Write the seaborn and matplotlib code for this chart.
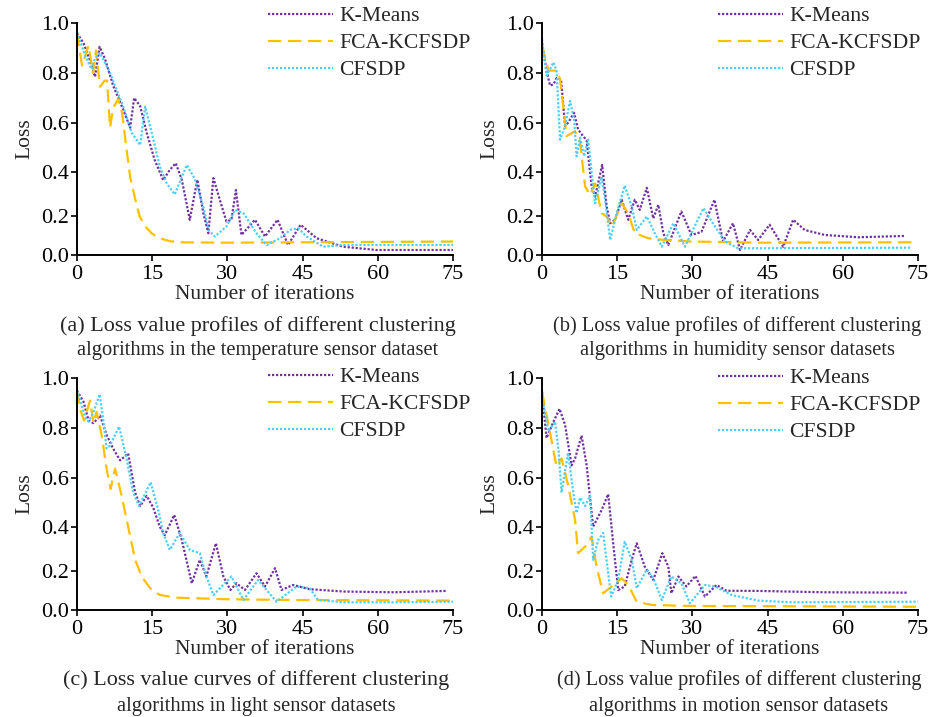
import numpy as np
import pandas as pd
import seaborn as sns
import matplotlib
matplotlib.use("Agg")
import matplotlib.pyplot as plt

# ---- data (iteration, loss) ----
# (a) temperature
a_km_x = [0, 1.3, 2.6, 3.6, 4.5, 5.6, 7.2, 9.2, 10.6, 11.4, 12.6, 13.9, 15.5, 17.2, 18.5, 19.7, 20.9, 22.5,
          24.0, 25.2, 26.2, 27.2, 28.5, 29.8, 30.8, 31.7, 32.8, 35.5, 37.5, 40.0, 42.1, 44.6, 47.8, 53.1, 59.7, 75]
a_km_y = [0.96, 0.92, 0.85, 0.785, 0.905, 0.856, 0.75, 0.654, 0.58, 0.70, 0.667, 0.56, 0.45, 0.365, 0.41, 0.437,
          0.367, 0.183, 0.367, 0.215, 0.113, 0.374, 0.275, 0.174, 0.183, 0.32, 0.104, 0.183, 0.096, 0.183, 0.052,
          0.157, 0.087, 0.043, 0.026, 0.026]
a_fca_x = [0, 1.0, 2.3, 3.2, 3.8, 4.6, 5.5, 6.0, 6.6, 7.2, 8.2, 9.0, 9.9, 10.6, 11.6, 12.5, 13.6, 15.0, 16.5,
           18.5, 20.5, 30, 45, 60, 75]
a_fca_y = [0.96, 0.83, 0.91, 0.80, 0.89, 0.745, 0.77, 0.77, 0.58, 0.66, 0.695, 0.64, 0.49, 0.38, 0.28, 0.20,
           0.148, 0.11, 0.087, 0.072, 0.066, 0.064, 0.066, 0.068, 0.07]
a_cf_x = [0, 1.6, 2.9, 3.6, 4.6, 6.6, 9.2, 10.9, 12.6, 13.6, 14.9, 16.5, 17.9, 19.5, 21.9, 23.5, 25.2, 26.2,
          27.5, 29.8, 31.5, 33.2, 35.8, 37.8, 40.5, 42.5, 44.1, 45.8, 49.1, 53.0, 75]
a_cf_y = [0.963, 0.87, 0.816, 0.86, 0.88, 0.80, 0.667, 0.56, 0.51, 0.665, 0.56, 0.425, 0.35, 0.30, 0.43, 0.37,
          0.245, 0.13, 0.096, 0.148, 0.23, 0.215, 0.113, 0.052, 0.087, 0.13, 0.139, 0.096, 0.043, 0.052, 0.052]

# (b) humidity
b_km_x = [0, 0.9, 1.6, 2.3, 2.9, 3.8, 4.6, 5.2, 6.4, 7.2, 8.2, 8.9, 9.9, 10.6, 12.0, 12.9, 13.6, 14.6, 15.9,
          17.2, 18.5, 19.5, 20.9, 22.2, 23.2, 24.2, 25.2, 27.8, 29.8, 31.8, 34.4, 36.1, 38.1, 39.5, 41.5, 43.1,
          45.4, 48.1, 50.1, 52.4, 56.4, 63.1, 72.4]
b_km_y = [0.92, 0.81, 0.75, 0.755, 0.78, 0.775, 0.587, 0.60, 0.64, 0.573, 0.546, 0.53, 0.336, 0.29, 0.43, 0.245,
          0.165, 0.183, 0.276, 0.183, 0.276, 0.23, 0.33, 0.19, 0.253, 0.113, 0.052, 0.223, 0.104, 0.12, 0.276,
          0.07, 0.165, 0.026, 0.13, 0.078, 0.157, 0.043, 0.183, 0.13, 0.104, 0.092, 0.099]
b_fca_x = [0, 1.3, 2.9, 3.6, 4.3, 4.9, 6.6, 7.6, 8.6, 9.6, 10.6, 11.9, 12.9, 14.0, 15.9, 17.2, 18.5, 21.2,
           24.5, 29.8, 43.1, 73.7]
b_fca_y = [0.91, 0.81, 0.81, 0.775, 0.655, 0.546, 0.566, 0.52, 0.336, 0.297, 0.35, 0.215, 0.20, 0.148, 0.26,
           0.215, 0.113, 0.087, 0.078, 0.07, 0.064, 0.066]
b_cf_x = [0, 0.9, 2.3, 2.9, 3.6, 4.6, 5.6, 6.4, 6.9, 7.6, 8.4, 9.2, 9.9, 10.6, 11.9, 12.6, 13.6, 14.9, 16.5,
          17.9, 18.9, 20.9, 22.5, 23.9, 26.2, 28.5, 32.2, 34.5, 36.5, 39.1, 43.1, 73.4]
b_cf_y = [0.935, 0.79, 0.843, 0.81, 0.532, 0.587, 0.688, 0.61, 0.465, 0.54, 0.465, 0.532, 0.40, 0.26, 0.38,
          0.276, 0.078, 0.215, 0.34, 0.245, 0.13, 0.20, 0.113, 0.043, 0.165, 0.043, 0.238, 0.148, 0.07, 0.035,
          0.035, 0.038]

# (c) light
c_km_x = [0, 1.3, 2.3, 3.3, 4.6, 5.9, 7.2, 8.6, 10.2, 11.6, 12.6, 13.9, 15.2, 16.5, 17.5, 19.4, 20.9, 22.9,
          24.5, 25.8, 27.7, 29.2, 30.6, 31.8, 33.5, 35.8, 37.5, 39.5, 40.8, 43.1, 46.4, 53.1, 63.1, 73.7]
c_km_y = [0.95, 0.905, 0.83, 0.82, 0.85, 0.773, 0.718, 0.67, 0.698, 0.54, 0.486, 0.527, 0.48, 0.403, 0.365,
          0.45, 0.343, 0.139, 0.253, 0.174, 0.328, 0.174, 0.104, 0.139, 0.104, 0.191, 0.122, 0.215, 0.104, 0.13,
          0.108, 0.096, 0.092, 0.099]
c_fca_x = [0, 0.7, 1.4, 2.6, 3.3, 3.9, 4.9, 5.9, 6.7, 7.6, 8.9, 10.2, 11.6, 12.9, 14.6, 16.5, 19.9, 29.8,
           43.1, 75]
c_fca_y = [0.95, 0.87, 0.83, 0.91, 0.82, 0.865, 0.773, 0.637, 0.555, 0.637, 0.527, 0.403, 0.253, 0.174, 0.113,
           0.078, 0.064, 0.056, 0.052, 0.049]
c_cf_x = [0, 1.6, 2.3, 3.3, 4.5, 5.2, 5.9, 6.6, 8.4, 9.9, 11.2, 12.4, 14.7, 16.2, 17.2, 18.5, 20.5, 22.5,
          24.5, 25.8, 27.2, 30.8, 33.2, 36.1, 39.8, 43.8, 46.4, 48.1, 53.1, 63.1, 75]
c_cf_y = [0.95, 0.845, 0.826, 0.865, 0.935, 0.84, 0.718, 0.73, 0.806, 0.677, 0.54, 0.486, 0.582, 0.47, 0.375,
          0.298, 0.375, 0.298, 0.283, 0.174, 0.078, 0.174, 0.052, 0.156, 0.043, 0.122, 0.113, 0.052, 0.04, 0.04,
          0.043]

# (d) motion
d_km_x = [0, 0.9, 2.3, 3.5, 4.6, 5.9, 6.6, 7.9, 8.9, 10.2, 11.9, 13.2, 14.2, 15.2, 16.5, 17.9, 18.9, 20.5,
          22.2, 24.0, 25.2, 25.8, 27.2, 28.8, 30.6, 32.5, 34.8, 36.8, 43.1, 56.4, 73.0]
d_km_y = [0.945, 0.76, 0.826, 0.877, 0.813, 0.65, 0.678, 0.77, 0.65, 0.403, 0.47, 0.534, 0.328, 0.104, 0.122,
          0.253, 0.328, 0.222, 0.156, 0.283, 0.222, 0.087, 0.174, 0.122, 0.177, 0.07, 0.13, 0.10, 0.099, 0.092,
          0.09]
d_fca_x = [0, 1.3, 2.9, 3.9, 5.2, 6.6, 7.2, 8.6, 9.9, 10.9, 12.2, 13.9, 15.9, 17.2, 18.9, 21.9, 29.8, 75]
d_fca_y = [0.945, 0.813, 0.645, 0.678, 0.57, 0.43, 0.283, 0.313, 0.358, 0.22, 0.087, 0.122, 0.165, 0.13, 0.043,
           0.026, 0.021, 0.017]
d_cf_x = [0, 1.3, 2.6, 3.3, 3.9, 5.2, 6.2, 6.9, 7.6, 8.6, 9.6, 10.2, 11.2, 12.2, 13.2, 13.8, 15.2, 16.5, 17.9,
          18.9, 20.9, 22.2, 23.9, 25.8, 27.8, 29.5, 32.5, 34.5, 37.8, 43.1, 49.8, 75]
d_cf_y = [0.925, 0.787, 0.826, 0.71, 0.54, 0.70, 0.546, 0.458, 0.52, 0.486, 0.527, 0.253, 0.343, 0.375, 0.191,
          0.07, 0.156, 0.335, 0.253, 0.113, 0.209, 0.165, 0.052, 0.174, 0.139, 0.035, 0.13, 0.122, 0.078, 0.049,
          0.04, 0.043]

algorithms = ["K-Means", "FCA-KCFSDP", "CFSDP"]
captions = [
    ["(a) Loss value profiles of different clustering", "algorithms in the temperature sensor dataset"],
    ["(b) Loss value profiles of different clustering", "algorithms in humidity sensor datasets"],
    ["(c) Loss value curves of different clustering", "algorithms in light sensor datasets"],
    ["(d) Loss value profiles of different clustering", "algorithms in motion sensor datasets"],
]
panels = [
    [(a_km_x, a_km_y), (a_fca_x, a_fca_y), (a_cf_x, a_cf_y)],
    [(b_km_x, b_km_y), (b_fca_x, b_fca_y), (b_cf_x, b_cf_y)],
    [(c_km_x, c_km_y), (c_fca_x, c_fca_y), (c_cf_x, c_cf_y)],
    [(d_km_x, d_km_y), (d_fca_x, d_fca_y), (d_cf_x, d_cf_y)],
]
y_ticks = [0.0, 0.2, 0.4, 0.6, 0.8, 1.0]
x_ticks = [0, 15, 30, 45, 60, 75]

# the source figure spaces its y ticks unevenly; mimic that
tick_pos = [0.0, 0.166, 0.356, 0.570, 0.784, 1.0]
def fwd(v):
    return np.interp(v, y_ticks, tick_pos)
def inv(p):
    return np.interp(p, tick_pos, y_ticks)

colors = ["#7030A0", "#FFC000", "#4FCFF5"]
styles = [(0, (1.0, 0.8)), (0, (6, 3)), (0, (1.0, 0.8))]

sns.set_theme(style="ticks")
plt.rcParams["font.family"] = ["Liberation Serif", "DejaVu Serif"]
plt.rcParams["axes.linewidth"] = 1.4

fig = plt.figure(figsize=(9.34, 7.17), dpi=100)
W, H = 934, 717
# axes boxes in pixels: left, top, right, bottom
boxes = [(77, 23, 453, 255), (542, 23, 918, 255), (77, 378, 453, 610), (542, 378, 918, 610)]
legend_xy = [(268, 6), (718, 6), (268, 367), (718, 368)]
caption_cx = [258, 737, 256, 739]
caption_y = [(326, 351), (326, 351), (680, 706), (680, 706)]
caption_size = [(15.9, 14.8), (14.8, 14.8), (15.9, 14.8), (14.6, 14.8)]

for i, (l, t, r, b) in enumerate(boxes):
    ax = fig.add_axes([l / W, 1 - b / H, (r - l) / W, (b - t) / H])
    ax.set_yscale("function", functions=(fwd, inv))
    for j, (xs, ys) in enumerate(panels[i]):
        sns.lineplot(x=xs, y=ys, ax=ax, color=colors[j], linestyle=styles[j],
                     linewidth=1.6, label=algorithms[j])
    ax.set_xlim(0, 75)
    ax.set_ylim(0, 1)
    ax.set_xticks(x_ticks)
    ax.set_yticks(y_ticks)
    ax.set_yticklabels([f"{v:.1f}" for v in y_ticks])
    ax.minorticks_off()
    ax.tick_params(direction="out", length=4, width=1.2, labelsize=16, pad=1.5, colors="black")
    ax.tick_params(axis="x", pad=3)
    for s in ["top", "right"]:
        ax.spines[s].set_visible(False)
    for s in ["left", "bottom"]:
        ax.spines[s].set_color("black")
    ax.set_xlabel("Number of iterations", fontsize=15.5, labelpad=1)
    ax.set_ylabel("Loss", fontsize=15.5, labelpad=5)
    lx, ly = legend_xy[i]
    ax.legend(loc="upper left", bbox_to_anchor=(lx / W, 1 - ly / H), bbox_transform=fig.transFigure,
              frameon=False, fontsize=15.6, handlelength=3.0, handletextpad=0.3, borderpad=0,
              borderaxespad=0, labelspacing=0.32)
    for k, line in enumerate(captions[i]):
        fig.text(caption_cx[i] / W, 1 - caption_y[i][k] / H, line, ha="center", va="center",
                 fontsize=caption_size[i][k])

fig.savefig("out.png", dpi=100)
